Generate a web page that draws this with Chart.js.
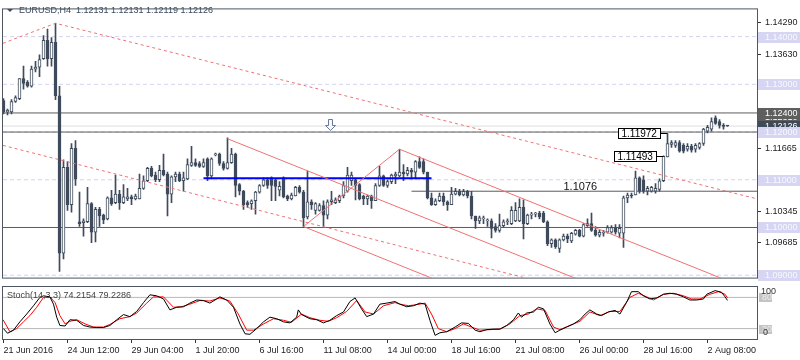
<!DOCTYPE html>
<html>
<head>
<meta charset="utf-8">
<script src="https://cdn.jsdelivr.net/npm/chart.js"></script>
<style>
    body { margin: 0; background: #fff; width: 800px; height: 360px; overflow: hidden; position: relative; }
    #main { position: absolute; left: 0; top: 0; }
    #stoch { position: absolute; left: 0; top: 286px; }
</style>
</head>
<body>
<canvas id="main" width="800" height="287"></canvas>
<canvas id="stoch" width="800" height="74"></canvas>

<script>
    // EURUSD H4 candles, one entry per bar (bar 0 = 21 Jun 2016)
    var opens = [1.1266,1.1242,1.1242,1.1264,1.1270,1.1312,1.1304,1.1296,1.1332,1.1336,
        1.1354,1.1392,1.1354,1.1388,1.1276,1.0946,1.1126,1.1048,1.1166,1.1012,
        1.1010,1.1012,1.1050,1.0990,1.1038,1.1026,1.1018,1.1062,1.1052,1.1070,
        1.1052,1.1060,1.1064,1.1060,1.1060,1.1082,1.1098,1.1124,1.1110,1.1100,
        1.1120,1.1112,1.1070,1.1106,1.1112,1.1098,1.1102,1.1130,1.1136,1.1134,
        1.1128,1.1144,1.1108,1.1152,1.1154,1.1134,1.1124,1.1136,1.1154,1.1090,
        1.1076,1.1052,1.1050,1.1056,1.1074,1.1088,1.1100,1.1104,1.1100,1.1078,
        1.1104,1.1066,1.1060,1.1066,1.1084,1.1074,1.1022,1.1054,1.1036,1.1036,
        1.1046,1.1026,1.1054,1.1052,1.1056,1.1066,1.1076,1.1098,1.1100,1.1090,
        1.1066,1.1060,1.1066,1.1056,1.1088,1.1108,1.1088,1.1096,1.1108,1.1108,
        1.1116,1.1112,1.1120,1.1116,1.1138,1.1138,1.1116,1.1062,1.1048,1.1056,
        1.1066,1.1054,1.1048,1.1070,1.1076,1.1068,1.1076,1.1066,1.1024,1.1014,
        1.1018,1.1014,1.1014,1.1002,1.0994,1.1004,1.1012,1.1008,1.1014,1.1014,
        1.1042,1.1008,1.1026,1.1028,1.1030,1.1030,1.1012,1.0966,1.0974,1.0956,
        1.0974,1.0982,1.0972,1.0986,1.0994,1.0982,1.1004,1.1008,1.0994,1.0984,
        1.0988,1.0990,1.0990,1.1000,1.0988,1.0988,1.1062,1.1068,1.1068,1.1104,
        1.1100,1.1076,1.1076,1.1076,1.1080,1.1098,1.1148,1.1174,1.1172,1.1178,
        1.1172,1.1164,1.1170,1.1164,1.1168,1.1176,1.1202,1.1206,1.1230,1.1222,
        1.1214,1.12131];
    var highs = [1.1270,1.1248,1.1268,1.1276,1.1312,1.1338,1.1308,1.1338,1.1348,1.1362,
        1.1402,1.1416,1.1398,1.1428,1.1296,1.1142,1.1138,1.1176,1.1182,1.1074,
        1.1018,1.1084,1.1052,1.1042,1.1042,1.1028,1.1064,1.1078,1.1110,1.1078,
        1.1090,1.1082,1.1068,1.1070,1.1112,1.1108,1.1126,1.1128,1.1116,1.1130,
        1.1154,1.1116,1.1108,1.1116,1.1116,1.1116,1.1144,1.1170,1.1144,1.1138,
        1.1144,1.1146,1.1146,1.1156,1.1156,1.1138,1.1188,1.1166,1.1156,1.1092,
        1.1078,1.1056,1.1058,1.1076,1.1090,1.1104,1.1104,1.1106,1.1102,1.1096,
        1.1106,1.1068,1.1072,1.1086,1.1088,1.1078,1.1118,1.1058,1.1052,1.1050,
        1.1056,1.1058,1.1076,1.1062,1.1068,1.1096,1.1126,1.1116,1.1102,1.1092,
        1.1068,1.1068,1.1068,1.1092,1.1128,1.1110,1.1100,1.1112,1.1116,1.1164,
        1.1132,1.1126,1.1124,1.1140,1.1148,1.1144,1.1116,1.1072,1.1060,1.1072,
        1.1072,1.1056,1.1084,1.1082,1.1080,1.1080,1.1078,1.1076,1.1024,1.1024,
        1.1024,1.1018,1.1018,1.1008,1.1028,1.1016,1.1018,1.1044,1.1052,1.1060,
        1.1058,1.1028,1.1032,1.1032,1.1034,1.1034,1.1014,1.0976,1.0976,1.0976,
        1.0986,1.0986,1.0990,1.0996,1.0996,1.1008,1.1018,1.1030,1.1002,1.0994,
        1.0994,1.1004,1.1004,1.1006,1.1006,1.1066,1.1072,1.1072,1.1118,1.1106,
        1.1108,1.1086,1.1086,1.1092,1.1102,1.1150,1.1197,1.1182,1.1182,1.1182,
        1.1176,1.1176,1.1174,1.1176,1.1178,1.1208,1.1214,1.1230,1.1234,1.1226,
        1.1218,1.12131];
    var lows = [1.1238,1.1236,1.1238,1.1262,1.1268,1.1290,1.1294,1.1294,1.1326,1.1316,
        1.1352,1.1338,1.1338,1.1268,1.0908,1.0934,1.1036,1.1032,1.1088,1.1002,
        1.0982,1.1010,1.0968,1.0970,1.1002,1.1008,1.1016,1.1046,1.1050,1.1038,
        1.1050,1.1056,1.1048,1.1058,1.1060,1.1080,1.1096,1.1106,1.1096,1.1096,
        1.1108,1.1024,1.1052,1.1096,1.1096,1.1076,1.1100,1.1128,1.1128,1.1126,
        1.1126,1.1098,1.1102,1.1150,1.1130,1.1120,1.1122,1.1134,1.1064,1.1068,
        1.1038,1.1042,1.1038,1.1028,1.1072,1.1086,1.1082,1.1056,1.1056,1.1066,
        1.1062,1.1056,1.1058,1.1066,1.1072,1.1000,1.1018,1.1038,1.1028,1.1034,
        1.1002,1.1018,1.1048,1.1050,1.1052,1.1062,1.1074,1.1088,1.1058,1.1058,
        1.1048,1.1048,1.1040,1.1056,1.1086,1.1086,1.1084,1.1092,1.1092,1.1106,
        1.1098,1.1108,1.1102,1.1102,1.1124,1.1112,1.1060,1.1046,1.1046,1.1054,
        1.1046,1.1036,1.1048,1.1068,1.1066,1.1066,1.1062,1.1018,1.0998,1.1008,
        1.1008,1.1002,1.0978,1.0990,1.0990,1.1000,1.1006,1.1006,1.1012,1.1012,
        1.0976,1.1006,1.1018,1.1022,1.1018,1.1010,1.0962,1.0958,1.0956,1.0948,
        1.0972,1.0968,1.0968,1.0984,1.0980,1.0980,1.1002,1.0992,1.0982,1.0980,
        1.0982,1.0988,1.0988,1.0986,1.0978,1.0958,1.1052,1.1062,1.1068,1.1072,
        1.1072,1.1068,1.1074,1.1072,1.1076,1.1096,1.1148,1.1168,1.1168,1.1158,
        1.1156,1.1160,1.1158,1.1158,1.1164,1.1172,1.1198,1.1202,1.1216,1.1208,
        1.1206,1.12119];
    var closes = [1.1242,1.1246,1.1264,1.1272,1.1312,1.1302,1.1296,1.1332,1.1336,1.1352,
        1.1392,1.1354,1.1388,1.1276,1.0946,1.1126,1.1048,1.1166,1.1102,1.1008,
        1.1014,1.1050,1.0990,1.1038,1.1024,1.1016,1.1062,1.1050,1.1070,1.1052,
        1.1064,1.1064,1.1060,1.1066,1.1082,1.1098,1.1124,1.1108,1.1100,1.1120,
        1.1110,1.1070,1.1106,1.1112,1.1098,1.1104,1.1132,1.1136,1.1130,1.1128,
        1.1136,1.1108,1.1144,1.1154,1.1134,1.1124,1.1136,1.1154,1.1088,1.1076,
        1.1048,1.1048,1.1056,1.1074,1.1088,1.1100,1.1088,1.1088,1.1086,1.1086,
        1.1064,1.1060,1.1068,1.1084,1.1074,1.1020,1.1054,1.1048,1.1050,1.1046,
        1.1026,1.1054,1.1058,1.1058,1.1066,1.1088,1.1110,1.1110,1.1088,1.1060,
        1.1060,1.1066,1.1056,1.1088,1.1108,1.1088,1.1096,1.1110,1.1112,1.1116,
        1.1112,1.1120,1.1116,1.1138,1.1126,1.1116,1.1062,1.1048,1.1056,1.1066,
        1.1054,1.1048,1.1070,1.1076,1.1068,1.1076,1.1066,1.1024,1.1014,1.1020,
        1.1020,1.1014,1.0998,1.0994,1.1004,1.1012,1.1014,1.1036,1.1036,1.1042,
        1.1008,1.1026,1.1028,1.1028,1.1022,1.1012,1.0966,1.0974,1.0960,1.0974,
        1.0982,1.0976,1.0988,1.0994,1.0982,1.1006,1.1008,1.0994,1.0984,1.0990,
        1.0988,1.1000,1.1000,1.0990,1.0998,1.1062,1.1068,1.1066,1.1104,1.1076,
        1.1076,1.1082,1.1084,1.1082,1.1098,1.1149,1.1176,1.1178,1.1178,1.1160,
        1.1160,1.1170,1.1162,1.1172,1.1176,1.1206,1.1210,1.1222,1.1218,1.1214,
        1.1212,1.12126];

    // Stochastic(14,3,3): [bar, value]
    var stochK = [[0,20],[1,11],[2.5,17],[4.1,33],[5.8,48],[7.5,64],[9.1,80],[10,83],[11.6,81],[12.5,67],
        [13.3,42],[14.1,26],[15.4,25],[16.6,37],[18.3,36],[20,26],[21.6,23],[23.3,22],[25,22],[26.6,26],
        [28.3,37],[30,47],[31.6,43],[33.3,53],[35,70],[36.6,85],[38.3,83],[40,77],[41.6,56],[43.3,61],
        [45,62],[46.6,69],[48.3,75],[50,74],[51.6,69],[53.3,77],[54.1,81],[55.8,75],[57.5,61],[59.1,29],
        [60.4,10],[61.6,9],[63.3,20],[65,33],[66.6,42],[68.3,39],[70,33],[71.6,31],[73.3,42],[73.7,56],
        [74.5,47],[76.6,39],[78.3,37],[80,31],[81.6,36],[83.3,45],[85,52],[86.6,72],[87.9,79],[89.5,58],
        [90.8,43],[92.5,48],[94.1,67],[95.8,69],[97.9,72],[99.1,67],[100.8,62],[102.5,64],[104.1,69],[105.4,67],
        [106.6,36],[107.9,7],[109.1,12],[110.8,14],[112.9,23],[114.5,31],[116.2,30],[117.9,17],[119.1,14],[120.8,18],
        [122.5,19],[124.1,19],[125.8,26],[127.5,37],[128.7,50],[129.5,42],[130.8,50],[132.5,52],[133.7,61],[135,58],
        [136.6,29],[137.9,12],[139.1,17],[140.8,23],[142.5,29],[144.1,37],[145.4,48],[146.6,56],[148.3,48],[149.5,45],
        [151.2,52],[152.9,55],[154.1,48],[155.8,71],[157,91],[158.7,91],[160,83],[161.6,77],[163.3,79],[165,86],
        [166.6,88],[168.3,86],[170,81],[171.6,75],[173.3,75],[175,77],[175.8,86],[177.9,93],[179.5,90],[180.4,81],
        [181,74.2]];
    var stochD = [[-0.1,37],[1.6,14],[3.3,20],[5,33],[6.6,45],[8.3,61],[10,80],[11.6,81],[12.9,70],[14.1,45],
        [15.4,29],[16.6,34],[18.3,37],[20.4,29],[22.5,23],[25,23],[26.6,28],[29.1,39],[31.6,43],[33.3,50],
        [35.8,69],[37.5,81],[40,81],[42.5,61],[44.5,62],[46.6,67],[49.1,74],[51.6,73],[54.1,79],[56.6,73],
        [58.7,48],[60.8,17],[62.5,17],[65,29],[67.5,39],[70,36],[72,32],[74.5,48],[76.6,41],[79.1,36],
        [81.2,34],[83.3,41],[85.8,53],[88.3,74],[90.4,52],[92.5,48],[95,64],[97.9,70],[99.1,67],[101.2,64],
        [103.3,66],[105.4,69],[107,48],[108.7,20],[110.8,14],[112.9,20],[115,29],[117,23],[119.1,17],[121.6,18],
        [124.1,19],[126.6,29],[129.1,45],[131.2,48],[133.3,58],[135.4,55],[137.5,23],[139.1,18],[141.6,26],[144.1,34],
        [146.6,52],[149.1,45],[151.6,53],[154.1,53],[156.6,80],[158.7,88],[160.8,81],[162.5,75],[165,86],[167.5,88],
        [170,83],[172,77],[174.1,77],[176.6,86],[178.7,91],[180.4,86],[181,79.2]];
    var stochLevels = [80, 20];

    // axis labels
    var timeLabels = ['21 Jun 2016', '24 Jun 12:00', '29 Jun 04:00', '1 Jul 20:00', '6 Jul 16:00', '11 Jul 08:00',
        '14 Jul 00:00', '18 Jul 16:00', '21 Jul 08:00', '26 Jul 00:00', '28 Jul 16:00', '2 Aug 08:00'];
    var timeLabelBars = [0, 16, 32, 48, 64, 80, 96, 112, 128, 144, 160, 176];
    var priceTicks = [1.14290, 1.13630, 1.11665, 1.10345, 1.09685];

    // chart objects (price levels and trend lines as [bar, price])
    var roundLevels = [1.14, 1.13, 1.12, 1.11, 1.10, 1.09];
    var markedLevels = [1.124, 1.12, 1.10];
    var axisMarks = [1.1231, 1.124];
    var lastPrice = 1.12126;
    var supportLine = [[102, 1.1076], [188.375, 1.1076]];
    var blueLine = [[50, 1.1103], [107, 1.1103]];
    var trendSolid = [
        [[56, 1.1186], [150, 1.0870]],
        [[99, 1.1164], [185, 1.0875]],
        [[75, 1.1002], [110, 1.0884]],
        [[75, 1.1002], [99, 1.1164]]
    ];
    var trendDashed = [
        [[-0.125, 1.1386], [13, 1.1428], [188.375, 1.1060]],
        [[-0.125, 1.1172], [140, 1.0874]]
    ];
    var priceTags = [[166, 1.11972], [165, 1.11493]];
    var levelText = [140, 1.1076];
    var arrowMark = [81.6, 1.1214];

    var xMin = -0.125, xMax = 188.375;
    var CANDLE = '#3f4b5b';
    var FRAME = '#4d5661';
    var RED = '#f07272';
    var FONT = '"Liberation Sans", Arial, sans-serif';

    Chart.defaults.font.family = FONT;
    Chart.defaults.font.size = 9;
    Chart.defaults.color = '#222';
    Chart.defaults.animation = false;

    function seg(points) {
        return points.map(function(p) { return {x: p[0], y: p[1]}; });
    }
    function hline(v) {
        return [{x: xMin, y: v}, {x: xMax, y: v}];
    }
    function lineSet(data, color, width, dash, order) {
        return {
            type: 'line', data: data, borderColor: color, borderWidth: width, borderDash: dash,
            pointRadius: 0, fill: false, tension: 0, clip: 0, order: order
        };
    }

    var barIdx = opens.map(function(o, i) { return i; });

    var mainDecor = {
        id: 'mainDecor',
        afterDraw: function(chart) {
            var ctx = chart.ctx, a = chart.chartArea, x = chart.scales.x, y = chart.scales.y;
            ctx.save();
            ctx.strokeStyle = FRAME;
            ctx.lineWidth = 1;
            ctx.strokeRect(a.left - 0.5, a.top - 0.5, a.right - a.left + 1, a.bottom - a.top + 1);

            // title
            ctx.fillStyle = '#3c4a5c';
            ctx.beginPath();
            ctx.moveTo(7, 9); ctx.lineTo(13, 9); ctx.lineTo(10, 12); ctx.closePath();
            ctx.fill();
            ctx.font = '9px ' + FONT;
            ctx.textBaseline = 'middle';
            ctx.textAlign = 'left';
            ctx.fillText('EURUSD,H4  1.12131 1.12131 1.12119 1.12126', 19, 11);

            // boxed labels on the price axis
            function box(v, bg, fg) {
                var py = Math.round(y.getPixelForValue(v));
                ctx.fillStyle = bg;
                ctx.fillRect(a.right + 1, py - 5, 43, 11);
                ctx.fillStyle = fg;
                ctx.fillText(v.toFixed(5), a.right + 8, py + 0.5);
            }
            axisMarks.forEach(function(v) { box(v, '#5e5e5e', '#ffffff'); });
            box(lastPrice, '#3f4b5b', '#ffffff');
            roundLevels.forEach(function(v) { box(v, '#d6d6f3', '#f8f8ff'); });

            // price tags on the chart
            ctx.font = '10px ' + FONT;
            priceTags.forEach(function(t) {
                var px = x.getPixelForValue(t[0]);
                var py = Math.round(y.getPixelForValue(t[1])) + 0.5;
                var right = Math.round(px - 8) + 0.5, w = 42;
                ctx.fillStyle = '#fff';
                ctx.fillRect(right - w, py - 5, w, 10);
                ctx.strokeStyle = '#000';
                ctx.strokeRect(right - w, py - 5, w, 10);
                ctx.beginPath(); ctx.moveTo(right, py); ctx.lineTo(px, py); ctx.stroke();
                ctx.fillStyle = '#000';
                ctx.fillText(t[1].toFixed(5), right - w + 3, py + 0.5);
            });

            ctx.font = '11px ' + FONT;
            ctx.textBaseline = 'bottom';
            ctx.fillStyle = '#111';
            ctx.fillText(levelText[1].toFixed(4), x.getPixelForValue(levelText[0]), y.getPixelForValue(levelText[1]) + 1);

            // hollow down arrow
            var ax = Math.round(x.getPixelForValue(arrowMark[0])) + 0.5;
            var ay = Math.round(y.getPixelForValue(arrowMark[1])) + 0.5;
            ctx.beginPath();
            ctx.moveTo(ax - 2, ay - 6); ctx.lineTo(ax + 2, ay - 6); ctx.lineTo(ax + 2, ay);
            ctx.lineTo(ax + 5, ay); ctx.lineTo(ax, ay + 5); ctx.lineTo(ax - 5, ay); ctx.lineTo(ax - 2, ay);
            ctx.closePath();
            ctx.fillStyle = '#f4f7fb'; ctx.fill();
            ctx.strokeStyle = '#6a7a96'; ctx.stroke();
            ctx.restore();
        }
    };

    var mainDatasets = [];
    roundLevels.forEach(function(v) { mainDatasets.push(lineSet(hline(v), '#d2d2ef', 1, [4, 3], 20)); });
    mainDatasets.push(lineSet(hline(lastPrice), '#dedede', 1, [], 19));
    markedLevels.forEach(function(v) { mainDatasets.push(lineSet(hline(v), '#5c5c5c', 1, [], 18)); });
    mainDatasets.push(lineSet(seg(supportLine), '#5c5c5c', 1, [], 18));
    mainDatasets.push({
        type: 'bar',
        data: barIdx.map(function(i) { return {x: i, y: [lows[i], highs[i]]}; }),
        backgroundColor: CANDLE, barThickness: 1, grouped: false, order: 6
    });
    mainDatasets.push({
        type: 'bar',
        data: barIdx.map(function(i) { return {x: i, y: [opens[i], closes[i]]}; }),
        backgroundColor: barIdx.map(function(i) { return closes[i] >= opens[i] ? '#ffffff' : CANDLE; }),
        borderColor: CANDLE, borderWidth: 1, borderSkipped: false,
        barThickness: 3, minBarLength: 1, grouped: false, order: 5
    });
    mainDatasets.push(lineSet(seg(blueLine), '#0000ff', 2, [], 2));
    trendSolid.forEach(function(t) { mainDatasets.push(lineSet(seg(t), RED, 1, [], 1)); });
    trendDashed.forEach(function(t) { mainDatasets.push(lineSet(seg(t), RED, 1, [3, 3], 1)); });

    new Chart(document.getElementById('main'), {
        type: 'bar',
        data: { datasets: mainDatasets },
        options: {
            responsive: false,
            events: [],
            layout: { padding: { left: 3, top: 3, right: 0, bottom: 3 } },
            plugins: { legend: { display: false }, tooltip: { enabled: false } },
            scales: {
                x: { type: 'linear', min: xMin, max: xMax, offset: false, display: false },
                y: {
                    position: 'right', min: 1.0895, max: 1.1457, beginAtZero: false,
                    afterFit: function(s) { s.width = 43; },
                    afterBuildTicks: function(s) { s.ticks = priceTicks.map(function(v) { return {value: v}; }); },
                    ticks: { callback: function(v) { return v.toFixed(5); }, color: '#222', padding: 4, autoSkip: false },
                    grid: { drawOnChartArea: false, drawTicks: true, tickLength: 4, tickColor: '#333' },
                    border: { display: false }
                }
            }
        },
        plugins: [mainDecor]
    });

    var stochDecor = {
        id: 'stochDecor',
        afterDraw: function(chart) {
            var ctx = chart.ctx, a = chart.chartArea, y = chart.scales.y;
            ctx.save();
            ctx.strokeStyle = FRAME;
            ctx.lineWidth = 1;
            ctx.strokeRect(a.left - 0.5, a.top - 0.5, a.right - a.left + 1, a.bottom - a.top + 1);
            ctx.font = '9px ' + FONT;
            ctx.textBaseline = 'middle';
            ctx.textAlign = 'left';
            ctx.fillStyle = '#444';
            ctx.fillText('Stoch(14,3,3) 74.2154 79.2286', 7, a.top + 9);

            stochLevels.forEach(function(v) {
                var py = Math.round(y.getPixelForValue(v));
                ctx.fillStyle = '#c4c4c4';
                ctx.fillRect(a.right + 2, py - 4, 13, 9);
                ctx.fillStyle = '#eeeeee';
                ctx.fillText(String(v), a.right + 5, py + 0.5);
            });
            ctx.fillStyle = '#333';
            ctx.fillText('100', a.right + 4, y.getPixelForValue(100) + 5);
            ctx.fillText('0', a.right + 6, y.getPixelForValue(20) + 4);
            ctx.restore();
        }
    };

    var stochDatasets = [];
    stochLevels.forEach(function(v) { stochDatasets.push(lineSet(hline(v), '#b8b8b8', 1, [], 5)); });
    stochDatasets.push(lineSet(seg(stochD), '#ff0000', 1, [], 2));
    stochDatasets.push(lineSet(seg(stochK), '#000000', 1, [], 1));

    new Chart(document.getElementById('stoch'), {
        type: 'line',
        data: { datasets: stochDatasets },
        options: {
            responsive: false,
            events: [],
            layout: { padding: { left: 3, top: 1, right: 0, bottom: 0 } },
            plugins: { legend: { display: false }, tooltip: { enabled: false } },
            scales: {
                x: {
                    type: 'linear', min: xMin, max: xMax, offset: false,
                    afterFit: function(s) { s.height = 21; },
                    afterBuildTicks: function(s) { s.ticks = timeLabelBars.map(function(v) { return {value: v}; }); },
                    ticks: {
                        callback: function(v, i) { return timeLabels[i]; },
                        align: 'start', maxRotation: 0, autoSkip: false, padding: 2, color: '#222'
                    },
                    grid: { drawOnChartArea: false, tickLength: 4, tickColor: '#333' },
                    border: { display: false }
                },
                y: {
                    position: 'right', min: 0, max: 100,
                    afterFit: function(s) { s.width = 43; },
                    ticks: { display: false },
                    grid: { display: false },
                    border: { display: false }
                }
            }
        },
        plugins: [stochDecor]
    });
</script>
</body>
</html>
